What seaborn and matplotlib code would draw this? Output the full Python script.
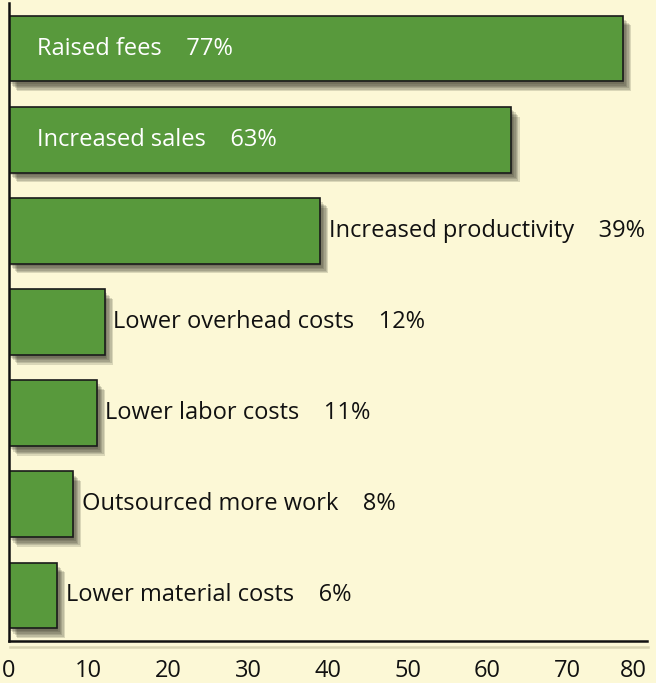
import matplotlib
matplotlib.use("Agg")
import matplotlib.pyplot as plt
import matplotlib.patheffects as pe
import seaborn as sns
import pandas as pd

categories = ["Raised fees", "Increased sales", "Increased productivity",
              "Lower overhead costs", "Lower labor costs",
              "Outsourced more work", "Lower material costs"]
values = [77, 63, 39, 12, 11, 8, 6]
inside = [True, True, False, False, False, False, False]
ticks = [0, 10, 20, 30, 40, 50, 60, 70, 80]

bg = "#FCF8D6"
green = "#58993C"

sns.set_style("white")
plt.rcParams["font.family"] = ["Open Sans", "DejaVu Sans"]

df = pd.DataFrame({"cat": categories, "val": values})

fig = plt.figure(figsize=(6.56, 6.83), dpi=100, facecolor=bg)
ax = fig.add_axes([9/656, 42/683, 638/656, 638/683])
ax.set_facecolor(bg)

sns.barplot(data=df, x="val", y="cat", orient="h", color=green, saturation=1,
            edgecolor="#1a1a1a", linewidth=1.2, width=0.72, ax=ax)

# soft drop shadow, faked with a few stacked offsets
shadow = [pe.SimplePatchShadow(offset=(dx, -dy), shadow_rgbFace="#2b2b1e", alpha=0.16)
          for dx, dy in [(1, 2), (2, 3), (3, 4), (4, 5), (5, 6), (6, 7)]]
for p in ax.patches:
    p.set_path_effects(shadow + [pe.Normal()])

for i, (c, v, ins) in enumerate(zip(categories, values, inside)):
    label = f"{c}    {v}%"
    if ins:
        ax.text(3.5, i, label, color="white", va="center", ha="left", fontsize=17)
    else:
        ax.text(v + 1.1, i, label, color="#111111", va="center", ha="left", fontsize=17)

ax.set_xlim(0, 80)
ax.set_ylim(6.5, -0.5)
ax.set_xticks(ticks)
ax.set_yticks([])
ax.set_xlabel("")
ax.set_ylabel("")
ax.tick_params(axis="x", direction="in", length=11, width=1.5, color="#111111",
               pad=13, labelsize=17, labelcolor="#111111")
ax.get_xticklabels()[-1].set_horizontalalignment("right")
for s in ["top", "right"]:
    ax.spines[s].set_visible(False)
for s in ["left", "bottom"]:
    ax.spines[s].set_color("#111111")
    ax.spines[s].set_linewidth(1.8)
ax.spines["bottom"].set_path_effects([pe.SimpleLineShadow(offset=(1, -4), shadow_color="#8a8660", alpha=0.3),
                                      pe.Normal()])

fig.savefig("out.png", dpi=100, facecolor=bg)
